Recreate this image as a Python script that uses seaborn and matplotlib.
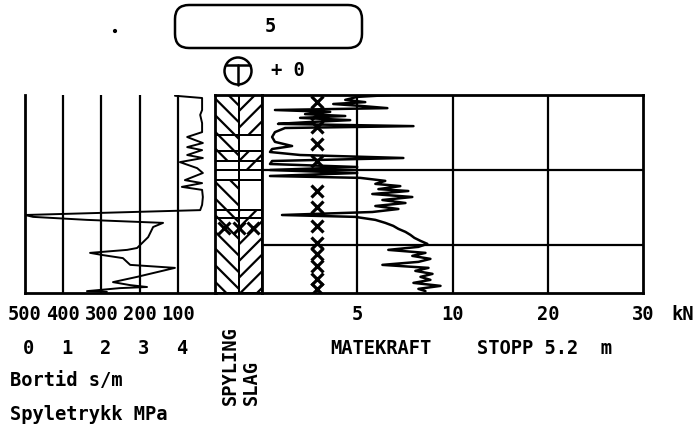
#!/usr/bin/env python3

import matplotlib
matplotlib.use("Agg")
from matplotlib import pyplot as plt
from matplotlib import transforms
from matplotlib.lines import Line2D
from matplotlib.patches import Circle, FancyBboxPatch
import numpy as np
import pandas as pd
import seaborn as sns

# Bortid (s/m) against depth (m)
bortid_depth = [0.02, 0.08, 0.4, 0.53, 0.75, 0.99, 1.12, 1.2, 1.28, 1.39,
                1.47, 1.6, 1.68, 1.79, 1.95, 2.08, 2.27, 2.35, 2.45, 2.53,
                2.72, 2.93, 3.07, 3.2, 3.25, 3.33, 3.41, 3.52, 3.79, 4.08,
                4.13, 4.21, 4.27, 4.35, 4.53, 4.61, 4.85, 4.99, 5.07, 5.12,
                5.15, 5.23, 5.25]
bortid_value = [108, 37, 37, 42, 37, 37, 76, 56, 35, 76,
                37, 76, 35, 95, 50, 35, 82, 37, 90, 37,
                35, 37, 42, 500, 479, 338, 139, 165, 178, 207,
                233, 330, 296, 244, 225, 108, 207, 270, 225, 181,
                252, 338, 286]

# Matekraft (kN) against depth (m)
force_depth = [0.0, 0.05, 0.13, 0.19, 0.24, 0.29, 0.35, 0.4, 0.45, 0.51,
               0.56, 0.61, 0.67, 0.72, 0.77, 0.83, 0.88, 0.99, 1.12, 1.25,
               1.36, 1.44, 1.52, 1.6, 1.68, 1.76, 1.84, 1.92, 2.0, 2.08,
               2.16, 2.21, 2.29, 2.37, 2.43, 2.51, 2.56, 2.64, 2.72, 2.8,
               2.88, 2.96, 3.04, 3.12, 3.2, 3.25, 3.33, 3.41, 3.49, 3.57,
               3.65, 3.73, 3.81, 3.89, 3.97, 4.05, 4.13, 4.21, 4.29, 4.37,
               4.45, 4.53, 4.61, 4.69, 4.77, 4.85, 4.93, 5.01, 5.09, 5.17,
               5.23]
force_value = [6.74, 5.0, 4.37, 5.42, 3.74, 5.16, 6.58, 0.68, 3.58, 2.26,
               4.37, 2.0, 4.63, 2.53, 0.84, 7.95, 1.21, 0.68, 0.53, 0.68,
               1.58, 0.53, 0.42, 2.0, 7.42, 0.53, 0.42, 5.0, 0.42, 5.0,
               0.42, 5.16, 6.47, 5.95, 7.26, 6.11, 7.68, 5.79, 7.89, 6.32,
               7.53, 5.95, 7.16, 5.79, 1.05, 4.89, 5.95, 6.47, 6.89, 7.16,
               7.53, 7.79, 8.0, 8.32, 8.68, 8.21, 6.63, 8.58, 7.89, 8.84,
               8.21, 6.32, 8.74, 8.05, 8.95, 8.32, 8.84, 7.95, 9.37, 8.21,
               8.58]

# X marks in the force column
rod_depth = [0.2, 0.5, 0.85, 1.3, 1.75, 2.55, 3.0, 3.5, 3.95, 4.25, 4.55,
             4.9, 5.17]
rod_force = 2.9

# Spyling / slag column
layer_top = [0.0, 1.07, 1.49, 1.76, 2.0, 2.27, 3.07, 3.28]
layer_bot = [1.07, 1.49, 1.76, 2.0, 2.27, 3.07, 3.28, 5.28]
spyling_hatch = ["\\\\", "\\\\", "\\\\", "", "", "\\\\", "\\\\", "\\\\"]
slag_hatch = ["//", "", "//", "//", "", "", "//", "//"]
crush_x = [0.2, 0.5, 0.8]
crush_depth = 3.55

bortid_ticks = [500, 400, 300, 200, 100]
pressure_ticks = [0, 1, 2, 3, 4]
force_ticks = [5, 10, 20, 30]
depth_grid = [2, 4]
stop_depth = 5.2

W, H = 700, 442


def fy(y):
    return 1 - y / H


def fwd(x):
    x = np.asarray(x, dtype=float)
    return np.where(x <= 10, x, 10 + (x - 10) / 2)


def inv(p):
    p = np.asarray(p, dtype=float)
    return np.where(p <= 10, p, 10 + 2 * (p - 10))


def main():
    sns.set_style("white")
    plt.rcParams["font.family"] = ["DejaVu Sans Mono"]
    plt.rcParams["font.weight"] = "bold"
    plt.rcParams["text.color"] = "black"
    plt.rcParams["hatch.linewidth"] = 1.6

    fig = plt.figure(figsize=(7, 4.42), dpi=100)
    lw = 1.8
    fs = 13.5

    top, bot = 95, 293
    ax_b = fig.add_axes([25 / W, fy(bot), 191.25 / W, (bot - top) / H])
    ax_s = fig.add_axes([215 / W, fy(bot), 47 / W, (bot - top) / H],
                        sharey=ax_b)
    ax_f = fig.add_axes([262 / W, fy(bot), 381 / W, (bot - top) / H],
                        sharey=ax_b)
    ax_b.set_ylim(5.28, 0)

    # Bortid panel
    df_b = pd.DataFrame({"depth": bortid_depth, "bortid": bortid_value})
    sns.lineplot(df_b, x="bortid", y="depth", sort=False, estimator=None,
                 color="black", lw=1.4, ax=ax_b)
    ax_b.set_xlim(500, 0)
    ax_b.set_xticks(bortid_ticks[1:])
    ax_b.grid(True, axis="x", color="black", lw=1.6)
    ax_b.set_yticks([])
    for s in ["top", "right"]:
        ax_b.spines[s].set_visible(False)
    for s in ["left", "bottom"]:
        ax_b.spines[s].set_color("black")
        ax_b.spines[s].set_linewidth(2)

    # Spyling / slag column
    for i in range(len(layer_top)):
        ax_s.fill_betweenx([layer_top[i], layer_bot[i]], 0, 0.5,
                           facecolor="none", edgecolor="black",
                           hatch=spyling_hatch[i], lw=1.4)
        ax_s.fill_betweenx([layer_top[i], layer_bot[i]], 0.5, 1,
                           facecolor="none", edgecolor="black",
                           hatch=slag_hatch[i], lw=1.4)
    ax_s.plot(crush_x, [crush_depth] * len(crush_x), ls="none", marker="x",
              ms=9, mew=2.2, color="black")
    ax_s.set_xlim(0, 1)
    ax_s.set_xticks([])
    for s in ax_s.spines.values():
        s.set_color("black")
        s.set_linewidth(2)

    # Matekraft panel
    df_f = pd.DataFrame({"depth": force_depth, "force": force_value})
    ax_f.set_xscale("function", functions=(fwd, inv))
    sns.lineplot(df_f, x="force", y="depth", sort=False, estimator=None,
                 color="black", lw=1.8, ax=ax_f)
    ax_f.plot([rod_force] * len(rod_depth), rod_depth, ls="none",
              marker="x", ms=8.5, mew=2.3, color="black")
    ax_f.set_xlim(0, 30)
    ax_f.set_xticks(force_ticks[:-1])
    ax_f.set_yticks(depth_grid)
    ax_f.grid(True, color="black", lw=1.6)
    for s in ax_f.spines.values():
        s.set_color("black")
        s.set_linewidth(2)

    for ax in [ax_b, ax_s, ax_f]:
        ax.set_xlabel("")
        ax.set_ylabel("")
        ax.tick_params(length=0, labelbottom=False, labelleft=False)

    # Labels under the panels
    tb = transforms.blended_transform_factory(ax_b.transData, fig.transFigure)
    for v in bortid_ticks:
        fig.text(v, fy(315), str(v), transform=tb, ha="center",
                 va="center", fontsize=fs)
    for v in pressure_ticks:
        fig.text(500 - 100 * v - 10, fy(349), str(v), transform=tb,
                 ha="center", va="center", fontsize=fs)
    fig.text(10 / W, fy(381), "Bortid s/m", ha="left", va="center",
             fontsize=fs)
    fig.text(10 / W, fy(414), "Spyletrykk MPa", ha="left", va="center",
             fontsize=fs)
    fig.text(230 / W, fy(405), "SPYLING", rotation=90, ha="center",
             va="bottom", fontsize=fs)
    fig.text(251 / W, fy(405), "SLAG", rotation=90, ha="center",
             va="bottom", fontsize=fs)

    tf = transforms.blended_transform_factory(ax_f.transData, fig.transFigure)
    for v in force_ticks:
        fig.text(v, fy(315), str(v), transform=tf, ha="center",
                 va="center", fontsize=fs)
    fig.text(683 / W, fy(315), "kN", ha="center", va="center", fontsize=fs)
    fig.text(381 / W, fy(349), "MATEKRAFT", ha="center", va="center",
             fontsize=fs)
    fig.text(477 / W, fy(349), f"STOPP {stop_depth}  m", ha="left",
             va="center", fontsize=fs)

    # Header: hole number box, symbol and level
    ident = transforms.IdentityTransform()
    fig.add_artist(FancyBboxPatch(
        (175, H - 48), 187, 43, boxstyle="round,pad=0,rounding_size=14",
        transform=ident, facecolor="none", edgecolor="black", lw=lw))
    fig.text(270 / W, fy(27), "5", ha="center", va="center", fontsize=fs)
    fig.add_artist(Circle((238, H - 71), 13.5, transform=ident,
                          facecolor="none", edgecolor="black", lw=lw))
    fig.add_artist(Line2D([226, 250], [H - 65, H - 65], transform=ident,
                          color="black", lw=lw))
    fig.add_artist(Line2D([238, 238], [H - 65, H - 84.5], transform=ident,
                          color="black", lw=lw))
    fig.text(288 / W, fy(70), "+ 0", ha="center", va="center", fontsize=fs)
    fig.add_artist(Circle((115, H - 31), 1.4, transform=ident,
                          facecolor="black", edgecolor="black"))

    fig.savefig("out.png", dpi=100)


if __name__ == "__main__":
    main()
